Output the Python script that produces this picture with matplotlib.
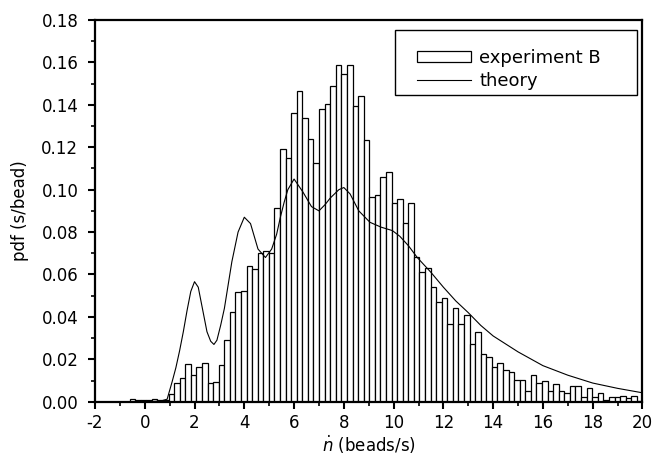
import matplotlib
matplotlib.use("Agg")
import matplotlib.pyplot as plt
from matplotlib.patches import Rectangle
import numpy as np

plt.rcParams['font.family'] = ['DejaVu Sans']
plt.rcParams['axes.unicode_minus'] = False

# Histogram (experiment B): bin layout and heights
bin_start = -0.612
bin_width = 0.224
exp_heights = [
    0.0012, 0.0008, 0.0006, 0.0010, 0.0012, 0.0008, 0.0006,
    0.0035, 0.0087, 0.0113, 0.0178, 0.0126, 0.0164, 0.0184, 0.0087, 0.0092, 0.0175,
    0.0289, 0.0422, 0.0516, 0.0524, 0.0640, 0.0624, 0.0703, 0.0712, 0.0703, 0.0912,
    0.1190, 0.1148, 0.1360, 0.1463, 0.1340, 0.1239, 0.1128, 0.1382, 0.1404, 0.1487,
    0.1588, 0.1544, 0.1588, 0.1393, 0.1442, 0.1232, 0.0965, 0.0975, 0.1061, 0.1085,
    0.0936, 0.0958, 0.0841, 0.0935, 0.0682, 0.0612, 0.0629, 0.0539, 0.0468, 0.0488,
    0.0367, 0.0440, 0.0367, 0.0409, 0.0274, 0.0327, 0.0226, 0.0212, 0.0165, 0.0184,
    0.0150, 0.0142, 0.0102, 0.0102, 0.0050, 0.0126, 0.0087, 0.0099, 0.0050, 0.0082,
    0.0052, 0.0042, 0.0074, 0.0074, 0.0024, 0.0063, 0.0024, 0.0042, 0.0008, 0.0024,
    0.0024, 0.0027, 0.0016, 0.0027, 0.0003,
]

# Theory curve
theory_x = [-2.0, 0.0, 0.5, 0.7, 0.9, 1.1, 1.25, 1.4, 1.55, 1.7, 1.85, 2.0, 2.15, 2.3,
            2.5, 2.65, 2.78, 2.9, 3.05, 3.2, 3.35, 3.5, 3.75, 4.0, 4.25, 4.55, 4.85,
            5.1, 5.3, 5.45, 5.6, 5.75, 6.0, 6.35, 6.7, 7.0, 7.25, 7.45, 7.8, 8.0, 8.25,
            8.6, 9.05, 9.5, 9.95, 10.25, 10.6, 10.95, 11.5, 12.0, 12.5, 13.0, 13.5,
            14.0, 15.0, 16.0, 17.0, 18.0, 19.0, 20.0]
theory_y = [0.0, 0.0, 0.0002, 0.0005, 0.0012, 0.0094, 0.016, 0.024, 0.033, 0.043, 0.052,
            0.0566, 0.054, 0.045, 0.033, 0.0285, 0.027, 0.029, 0.036, 0.044, 0.055,
            0.066, 0.080, 0.087, 0.084, 0.072, 0.068, 0.072, 0.079, 0.087, 0.094,
            0.100, 0.105, 0.099, 0.092, 0.090, 0.093, 0.096, 0.100, 0.101, 0.098,
            0.090, 0.0846, 0.0823, 0.0807, 0.078, 0.0735, 0.068, 0.061, 0.054, 0.0475,
            0.042, 0.036, 0.031, 0.0235, 0.017, 0.0125, 0.0088, 0.0063, 0.0042]

x_ticks = [-2, 0, 2, 4, 6, 8, 10, 12, 14, 16, 18, 20]
y_ticks = [0.00, 0.02, 0.04, 0.06, 0.08, 0.10, 0.12, 0.14, 0.16, 0.18]

fig = plt.figure(figsize=(6.66, 4.58), dpi=100)
ax = fig.add_axes([0.1426, 0.1229, 0.8221, 0.8334])

lefts = bin_start + bin_width * np.arange(len(exp_heights))
bars = ax.bar(lefts, exp_heights, width=bin_width, align='edge', facecolor='white',
              edgecolor='black', linewidth=0.9, label='experiment B', zorder=2)
line, = ax.plot(theory_x, theory_y, color='black', linewidth=0.8, label='theory', zorder=3)

ax.set_xlim(-2, 20)
ax.set_ylim(0, 0.18)
ax.set_xticks(x_ticks)
ax.set_xticklabels([str(v) for v in x_ticks])
ax.set_xticks(np.arange(-1, 20, 2), minor=True)
ax.set_yticks(y_ticks)
ax.set_yticklabels([f"{v:.2f}" for v in y_ticks])
ax.set_yticks(np.arange(0.01, 0.18, 0.02), minor=True)

ax.tick_params(axis='both', which='major', direction='out', length=5, width=1.5,
               labelsize=12, colors='black')
ax.tick_params(axis='y', which='major', pad=7)
ax.tick_params(axis='both', which='minor', direction='out', length=3, width=1.2)
for s in ax.spines.values():
    s.set_linewidth(1.6)

ax.set_xlabel(r'$\dot{n}$ (beads/s)', fontsize=12, labelpad=2)
ax.set_ylabel('pdf (s/bead)', fontsize=12, labelpad=9)

# legend frame
ax.add_patch(Rectangle((0.548, 0.8035), 0.442, 0.1705, transform=ax.transAxes,
                       facecolor='white', edgecolor='black', linewidth=1.0, zorder=4))
leg = ax.legend([bars, line], ['experiment B', 'theory'], loc='upper left',
                bbox_to_anchor=(0.588, 0.925), fontsize=13, frameon=False,
                handlelength=3.0, handleheight=0.55, borderpad=0.0,
                labelspacing=0.28, handletextpad=0.45, borderaxespad=0.0)
leg.set_zorder(5)

fig.savefig('out.png', dpi=100)
